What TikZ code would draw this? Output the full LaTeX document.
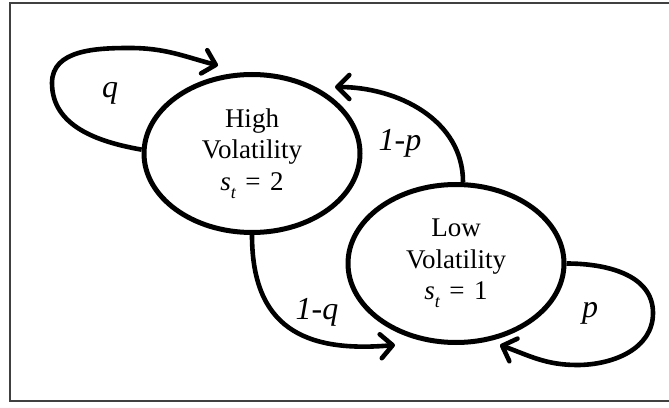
\documentclass[tikz,border=0pt]{standalone}
\usepackage{fontspec}
\setmainfont{Liberation Serif}
\usetikzlibrary{arrows.meta,shapes.geometric,calc}
\newcommand{\stvar}[1]{{\itshape s}\raisebox{-0.3em}{\fontsize{18}{18}\selectfont\itshape t}\hspace{0.35em}=\hspace{0.35em}#1}
\begin{document}
\begin{tikzpicture}[x=1pt,y=1pt,
  state/.style={ellipse,draw,line width=5pt,minimum width=216pt,minimum height=158pt,
    inner sep=0pt,align=center,font=\fontsize{27}{31.5}\selectfont},
  conn/.style={line width=4.6pt,-{Straight Barb[length=12pt,width=24pt,round]}},
  lab/.style={font=\fontsize{32}{34}\selectfont\itshape}]
\useasboundingbox (0,0) rectangle (669,407);
\draw[line width=1.5pt,black!75] (10,404) rectangle (680,6);
\node[state] (hi) at (252,253.5) {High\\Volatility\\\stvar{2}};
\node[state] (lo) at (456,143.5) {Low\\Volatility\\\stvar{1}};
\coordinate (qtip) at ($(hi.center)+(-34,88)$);
\coordinate (ptip) at ($(hi.center)+(83,66.5)$);
\coordinate (qqtip) at ($(lo.center)+(-61,-81.5)$);
\coordinate (pptip) at ($(lo.center)+(44,-81.5)$);
\draw[conn] (hi.178) to[out=170,in=-90] (52,324) to[out=90,in=180] (130,359) to[out=0,in=165] (qtip);
\draw[conn] ($(lo.north)+(7,0)$) to[out=90,in=0] (ptip);
\draw[conn] (hi.south) to[out=-90,in=185,looseness=1.3] (qqtip);
\draw[conn] (lo.east) to[out=0,in=90] (653,94) to[out=-90,in=0] (577,42) to[out=180,in=-20] (pptip);
\node[lab] (lq) at (110,314) {q};
\node[lab] (l1p) at (400,264) {1-p};
\node[lab] (l1q) at (317,95) {1-q};
\node[lab] (lp) at (590,94) {p};
\end{tikzpicture}
\end{document}
